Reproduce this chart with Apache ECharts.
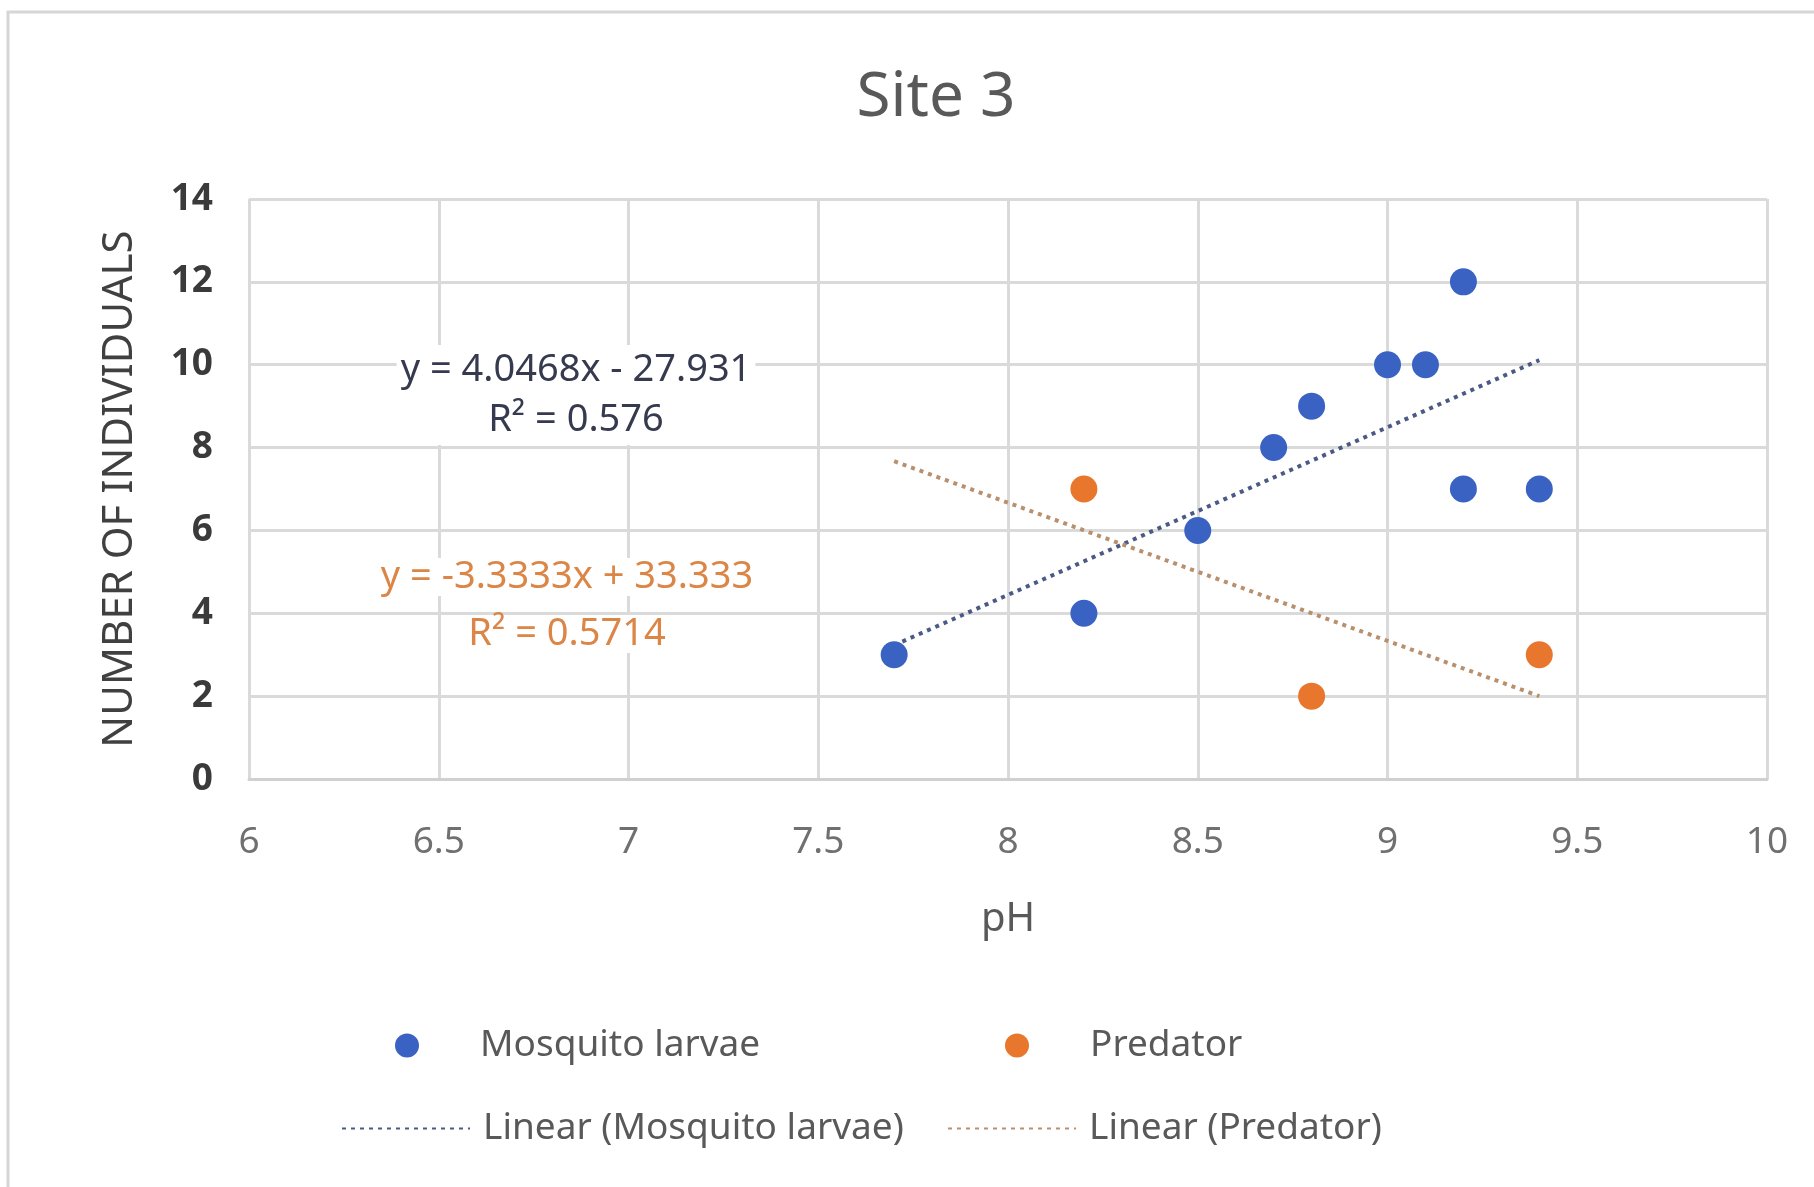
<!DOCTYPE html>
<html>
<head>
<meta charset="utf-8">
<script src="https://cdn.jsdelivr.net/npm/echarts@6/dist/echarts.min.js"></script>
<style>
html,body{margin:0;padding:0;background:#fff;}
#c{width:1814px;height:1187px;}
</style>
</head>
<body>
<div id="c"></div>
<script>
// ---- data ----
var mosquitoPH    = [7.7, 8.2, 8.5, 8.7, 8.8, 9.0, 9.1, 9.2, 9.2, 9.4];
var mosquitoCount = [3, 4, 6, 8, 9, 10, 10, 12, 7, 7];
var predatorPH    = [8.2, 8.8, 9.4];
var predatorCount = [7, 2, 3];
// trendline end points (as drawn in the reference)
var mosquitoTrendX = [7.7, 9.4];
var mosquitoTrendY = [3.23, 10.11];
var predatorTrendX = [7.7, 9.4];
var predatorTrendY = [7.67, 2.0];
var mosquitoEq = ['y = 4.0468x - 27.931', 'R² = 0.576'];
var predatorEq = ['y = -3.3333x + 33.333', 'R² = 0.5714'];
var seriesNames = ['Mosquito larvae', 'Predator', 'Linear (Mosquito larvae)', 'Linear (Predator)'];
var chartTitle = 'Site 3';
var xName = 'pH';
var yName = 'NUMBER OF INDIVIDUALS';

function pairs(xs, ys){ return xs.map(function(x,i){ return [x, ys[i]]; }); }

var BLUE = '#3A62C2', ORANGE = '#E8762D';
var FONT = 'Noto Sans';

function legendOf(name, left, top, itemWidth, pad, hideSymbol) {
  var l = {
    data: [name], left: left, top: top, orient: 'horizontal',
    itemWidth: itemWidth, itemHeight: 24,
    textStyle: { fontFamily: FONT, fontSize: 37, color: '#595959', padding: [0, 0, 0, pad] }
  };
  if (hideSymbol) { l.itemStyle = { opacity: 0 }; }
  return l;
}

function eqText(txt, x, y, color) {
  return { type: 'text', x: x, y: y, z: 10, style: { text: txt, fontFamily: FONT, fontSize: 38, fill: color, backgroundColor: '#ffffff', padding: [0, 4, 0, 4], textAlign: 'center', textVerticalAlign: 'middle' } };
}

var chart = echarts.init(document.getElementById('c'));
chart.setOption({
  backgroundColor: '#ffffff',
  animation: false,
  title: {
    text: chartTitle, left: 931, top: 62, textAlign: 'center',
    textStyle: { fontFamily: FONT, fontSize: 62, fontWeight: 'normal', color: '#595959' }
  },
  grid: { left: 249, right: 47, top: 199, bottom: 408 },
  xAxis: {
    type: 'value', min: 6, max: 10, interval: 0.5,
    name: xName, nameLocation: 'middle', nameGap: 121,
    nameTextStyle: { fontFamily: FONT, fontSize: 40, color: '#595959' },
    axisLine: { show: true, lineStyle: { color: '#D0D0D0', width: 3 } },
    axisTick: { show: false },
    axisLabel: { margin: 45, fontFamily: FONT, fontSize: 37, color: '#707070' },
    splitLine: { show: true, lineStyle: { color: '#DADADA', width: 3 } }
  },
  yAxis: {
    type: 'value', min: 0, max: 14, interval: 2,
    name: yName, nameLocation: 'middle', nameGap: 108,
    nameTextStyle: { fontFamily: FONT, fontSize: 42, color: '#404040' },
    axisLine: { show: false },
    axisTick: { show: false },
    axisLabel: { margin: 36, fontFamily: FONT, fontSize: 37, fontWeight: 'bold', color: '#3A3A3A' },
    splitLine: { show: true, lineStyle: { color: '#DADADA', width: 3 } }
  },
  legend: [
    legendOf(seriesNames[0], 390, 1022, 24, 56, false),
    legendOf(seriesNames[1], 1000, 1022, 24, 56, false),
    legendOf(seriesNames[2], 336, 1105, 128, 8, true),
    legendOf(seriesNames[3], 942, 1105, 128, 8, true)
  ],
  graphic: [
    { type: 'rect', shape: { x: 8, y: 12, width: 1830, height: 1200 }, style: { fill: 'none', stroke: '#D6D6D6', lineWidth: 3 }, silent: true, z: -1 },
    { type: 'text', x: 576, y: 395, z: 10, style: { text: mosquitoEq.join('\n'), fontFamily: FONT, fontSize: 38, lineHeight: 50, fill: '#353A4F', backgroundColor: '#ffffff', padding: [0, 4, 0, 4], textAlign: 'center', textVerticalAlign: 'middle' } },
    eqText(predatorEq[0], 567, 577, '#DB8646'),
    eqText(predatorEq[1], 567, 634, '#DB8646')
  ],
  series: [
    { name: seriesNames[0], type: 'scatter', data: pairs(mosquitoPH, mosquitoCount), symbol: 'circle', symbolSize: 27, itemStyle: { color: BLUE, opacity: 1 }, z: 3 },
    { name: seriesNames[1], type: 'scatter', data: pairs(predatorPH, predatorCount), symbol: 'circle', symbolSize: 27, itemStyle: { color: ORANGE, opacity: 1 }, z: 3 },
    { name: seriesNames[2], type: 'line', data: pairs(mosquitoTrendX, mosquitoTrendY), symbol: 'none', itemStyle: { color: '#4A5A84' }, lineStyle: { color: '#4A5A84', width: 4, type: [4, 5] }, z: 2 },
    { name: seriesNames[3], type: 'line', data: pairs(predatorTrendX, predatorTrendY), symbol: 'none', itemStyle: { color: '#B8906E' }, lineStyle: { color: '#B8906E', width: 4, type: [4, 5] }, z: 2 }
  ]
});
</script>
</body>
</html>
